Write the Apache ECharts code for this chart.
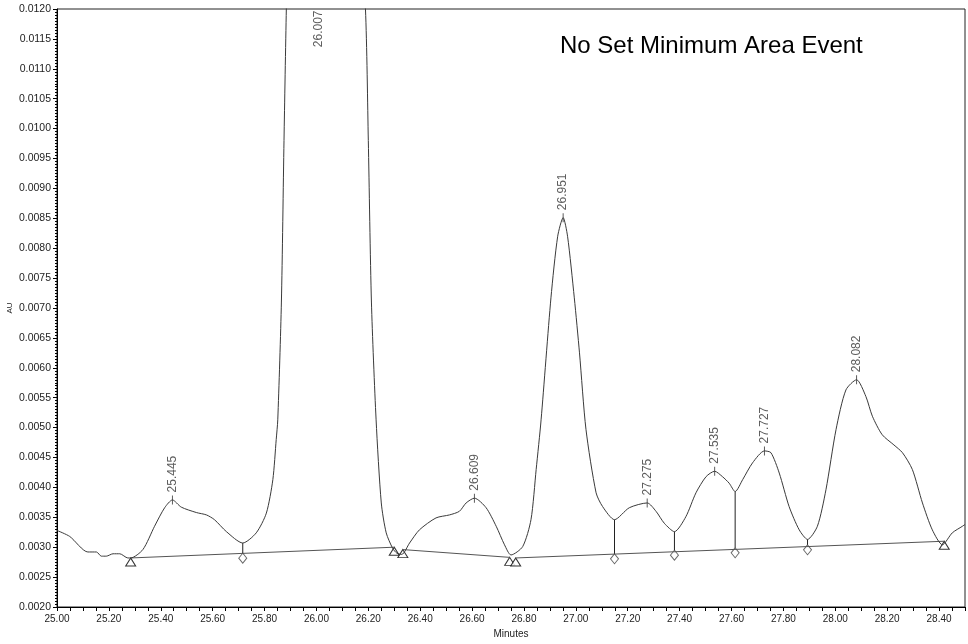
<!DOCTYPE html>
<html>
<head>
<meta charset="utf-8">
<script src="https://cdn.jsdelivr.net/npm/echarts@6/dist/echarts.min.js"></script>
<style>
  html, body { margin: 0; padding: 0; background: #fff; }
  #chart { width: 968px; height: 644px; }
</style>
</head>
<body>
<div id="chart"></div>
<script>
// detector trace, minutes vs AU
var traceTime = [
  25.000, 25.049, 25.119, 25.152, 25.171, 25.190, 25.216, 25.242, 25.273, 25.284,
  25.331, 25.376, 25.415, 25.445, 25.479, 25.537, 25.576, 25.607, 25.653, 25.716,
  25.768, 25.807, 25.832, 25.845, 25.851, 25.865, 25.875, 25.884, 25.930, 26.007,
  26.080, 26.189, 26.200, 26.212, 26.230, 26.250, 26.269, 26.294, 26.310, 26.329,
  26.359, 26.397, 26.461, 26.513, 26.551, 26.577, 26.609, 26.654, 26.693, 26.725,
  26.750, 26.795, 26.827, 26.847, 26.866, 26.904, 26.930, 26.951, 26.968, 26.994,
  27.014, 27.039, 27.078, 27.103, 27.149, 27.206, 27.275, 27.309, 27.341, 27.380,
  27.424, 27.463, 27.502, 27.535, 27.565, 27.591, 27.614, 27.643, 27.681, 27.727,
  27.752, 27.784, 27.822, 27.861, 27.893, 27.931, 27.964, 28.003, 28.041, 28.082,
  28.118, 28.143, 28.181, 28.226, 28.259, 28.297, 28.336, 28.374, 28.413, 28.451,
  28.490, 28.500
];
var traceAU = [
  0.00328, 0.00318, 0.00292, 0.00292, 0.00285, 0.00285, 0.00289, 0.00289, 0.00282, 0.00282,
  0.00296, 0.00335, 0.00366, 0.00379, 0.00367, 0.00358, 0.00354, 0.00346, 0.00326, 0.00307,
  0.00324, 0.00357, 0.00413, 0.00480, 0.00513, 0.00710, 0.00980, 0.01200, 0.02200, 0.02600,
  0.02200, 0.01200, 0.00980, 0.00710, 0.00513, 0.00374, 0.00324, 0.00298, 0.00290, 0.00288,
  0.00307, 0.00329, 0.00349, 0.00354, 0.00360, 0.00374, 0.00382, 0.00366, 0.00335, 0.00304,
  0.00287, 0.00301, 0.00346, 0.00430, 0.00513, 0.00717, 0.00820, 0.00851, 0.00820, 0.00717,
  0.00625, 0.00497, 0.00391, 0.00368, 0.00346, 0.00366, 0.00374, 0.00360, 0.00340, 0.00326,
  0.00351, 0.00391, 0.00418, 0.00427, 0.00418, 0.00407, 0.00393, 0.00413, 0.00441, 0.00461,
  0.00458, 0.00424, 0.00368, 0.00329, 0.00313, 0.00335, 0.00396, 0.00497, 0.00563, 0.00580,
  0.00552, 0.00519, 0.00488, 0.00471, 0.00458, 0.00430, 0.00374, 0.00329, 0.00304, 0.00324,
  0.00335, 0.00338
];

// labelled peaks (retention time, apex height)
var peakTime = [25.445, 26.609, 26.951, 27.275, 27.535, 27.727, 28.082];
var peakAU = [0.00379, 0.00382, 0.00851, 0.00374, 0.00427, 0.00461, 0.00580];
// off-scale peak, label pinned to top of plot
var clippedPeakTime = [26.007];

// baseline segments: start/end points
var baseStartTime = [25.284, 26.333, 26.768];
var baseStartAU = [0.00282, 0.00296, 0.00282];
var baseEndTime = [26.300, 26.745, 28.420];
var baseEndAU = [0.00300, 0.00283, 0.00310];

// valley drop lines
var dropTime = [25.716, 27.149, 27.380, 27.614, 27.893];
var dropTopAU = [0.00307, 0.00346, 0.00326, 0.00393, 0.00313];
var dropBaseAU = [0.00290, 0.00289, 0.00295, 0.00299, 0.00304];

var yTicks = { min: 0.0020, max: 0.0120, interval: 0.0005 };
var xTicks = { min: 25.00, max: 28.50, interval: 0.20 };

var FONT = "'Liberation Sans', Arial, sans-serif";

var trace = traceTime.map(function (t, i) { return [t, traceAU[i]]; });

var baseline = [];
baseStartTime.forEach(function (t, i) {
    baseline.push([t, baseStartAU[i]]);
    baseline.push([baseEndTime[i], baseEndAU[i]]);
    baseline.push('-');
});

var drops = [];
dropTime.forEach(function (t, i) {
    drops.push([t, dropTopAU[i]]);
    drops.push([t, dropBaseAU[i]]);
    drops.push('-');
});

var triangles = [];
baseStartTime.forEach(function (t, i) {
    triangles.push([t, baseStartAU[i]]);
    triangles.push([baseEndTime[i], baseEndAU[i]]);
});

var diamonds = dropTime.map(function (t, i) { return [t, dropBaseAU[i]]; });

var peaks = peakTime.map(function (t, i) { return [t, peakAU[i]]; });
var clipped = clippedPeakTime.map(function (t) { return [t, yTicks.max]; });

var chart = echarts.init(document.getElementById('chart'), null, { renderer: 'canvas' });

chart.setOption({
    backgroundColor: '#fff',
    animation: false,
    textStyle: { fontFamily: FONT },
    grid: {
        left: 57, right: 3, top: 9, bottom: 37,
        outerBoundsMode: 'none',
        containLabel: false,
        show: true, borderColor: '#222', borderWidth: 1
    },
    graphic: [{
        type: 'text',
        left: 560, top: 34,
        style: { text: 'No Set Minimum Area Event', fontSize: 24, fontFamily: FONT, fill: '#000' }
    }],
    xAxis: {
        type: 'value',
        min: xTicks.min, max: xTicks.max, interval: xTicks.interval,
        name: 'Minutes', nameLocation: 'middle', nameGap: 22,
        nameMoveOverlap: false,
        nameTextStyle: { fontSize: 10, color: '#222', fontFamily: FONT },
        axisLine: { lineStyle: { color: '#000', width: 1 } },
        axisTick: { length: 4, lineStyle: { color: '#000' } },
        minorTick: { show: true, splitNumber: 4, length: 4, lineStyle: { color: '#000' } },
        splitLine: { show: false },
        axisLabel: {
            fontSize: 10, color: '#222', margin: 7, fontFamily: FONT,
            showMaxLabel: false,
            formatter: function (v) { return v.toFixed(2); }
        }
    },
    yAxis: {
        type: 'value',
        min: yTicks.min, max: yTicks.max, interval: yTicks.interval,
        name: 'AU', nameLocation: 'middle', nameGap: 43, nameRotate: 90,
        nameMoveOverlap: false,
        nameTextStyle: { fontSize: 8, color: '#222', fontFamily: FONT },
        axisLine: { show: true, lineStyle: { color: '#000', width: 1 } },
        axisTick: { show: true, length: 4, lineStyle: { color: '#000' } },
        minorTick: { show: true, splitNumber: 10, length: 2, lineStyle: { color: '#000' } },
        splitLine: { show: false },
        axisLabel: {
            fontSize: 10.5, color: '#222', margin: 6, fontFamily: FONT,
            formatter: function (v) { return v.toFixed(4); }
        }
    },
    series: [
        {
            type: 'line', data: baseline, showSymbol: false, silent: true,
            lineStyle: { color: '#555', width: 1 }
        },
        {
            type: 'line', data: drops, showSymbol: false, silent: true,
            lineStyle: { color: '#222', width: 1 }
        },
        {
            type: 'line', data: trace, showSymbol: false, silent: true, smooth: 0.25,
            lineStyle: { color: '#3a3a3a', width: 1 }
        },
        {
            type: 'scatter', data: triangles, silent: true,
            symbol: 'triangle', symbolSize: [10, 8], symbolOffset: [0, 4],
            itemStyle: { color: '#fff', borderColor: '#000', borderWidth: 1 }
        },
        {
            type: 'scatter', data: diamonds, silent: true,
            symbol: 'diamond', symbolSize: [8, 10], symbolOffset: [0, 5],
            itemStyle: { color: '#fff', borderColor: '#444', borderWidth: 1 }
        },
        {
            type: 'scatter', data: peaks, silent: true,
            symbol: 'rect', symbolSize: [1, 9],
            itemStyle: { color: '#333' },
            label: {
                show: true, position: 'top', distance: 3, rotate: 90,
                align: 'left', verticalAlign: 'middle',
                fontSize: 12, color: '#333', fontFamily: FONT,
                formatter: function (p) { return p.value[0].toFixed(3); }
            }
        },
        {
            type: 'scatter', data: clipped, silent: true,
            symbol: 'circle', symbolSize: 1,
            itemStyle: { color: 'rgba(0,0,0,0)' },
            label: {
                show: true, position: 'bottom', distance: 1, rotate: 90,
                align: 'right', verticalAlign: 'middle',
                fontSize: 12, color: '#333', fontFamily: FONT,
                formatter: function (p) { return p.value[0].toFixed(3); }
            }
        }
    ]
});
</script>
</body>
</html>
